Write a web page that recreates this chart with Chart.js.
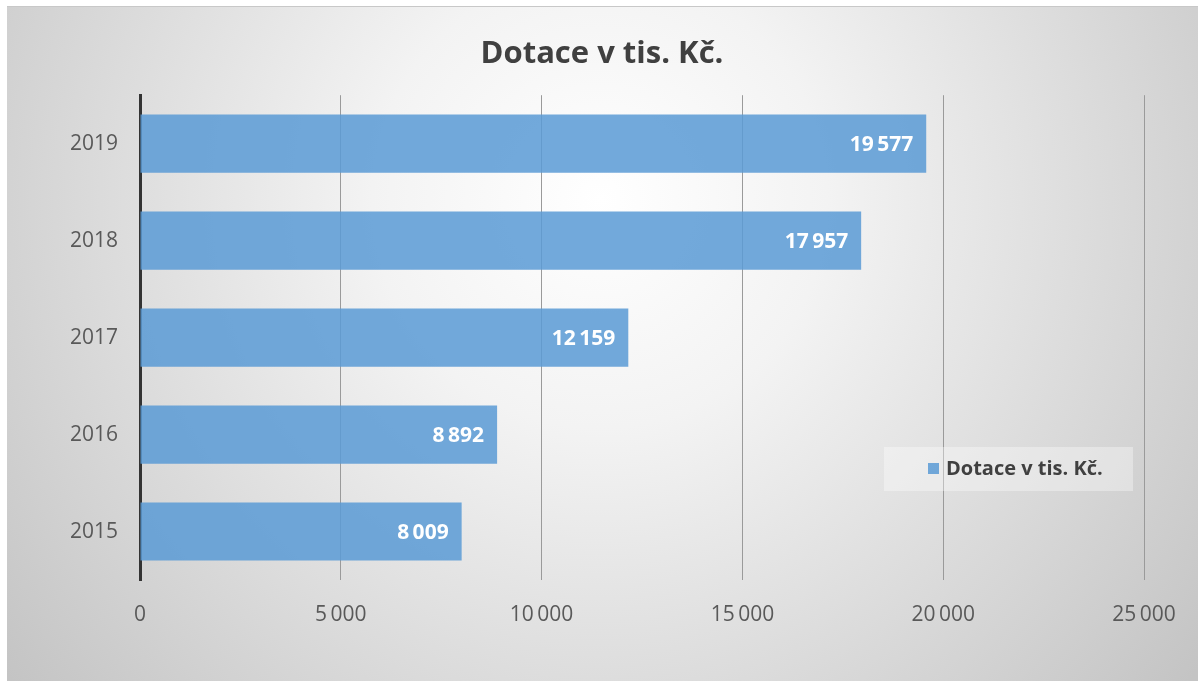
<!DOCTYPE html>
<html>
<head>
<meta charset="utf-8">
<script src="https://cdn.jsdelivr.net/npm/chart.js@4"></script>
<style>
  html, body { margin: 0; padding: 0; background: #fff; }
  #wrap { width: 1198px; height: 681px; }
</style>
</head>
<body>
<div id="wrap"><canvas id="dotaceChart" width="1198" height="681"></canvas></div>
<script>
const years = ['2015', '2016', '2017', '2018', '2019'];
const dotace = [8009, 8892, 12159, 17957, 19577];
const seriesLabel = 'Dotace v tis. Kč.';
const chartTitle = 'Dotace v tis. Kč.';
const xTicks = [0, 5000, 10000, 15000, 20000, 25000];

const barColor = 'rgba(91, 155, 213, 0.86)';

// number format like "19 577"
function fmt(v) {
  return String(v).replace(/\B(?=(\d{3})+(?!\d))/g, '\u2009');
}

// gray radial card behind everything
const cardBackground = {
  id: 'cardBackground',
  beforeDraw(chart) {
    const c = chart.ctx;
    const w = chart.width, h = chart.height;
    c.save();
    c.fillStyle = '#ffffff';
    c.fillRect(0, 0, w, h);
    const g = c.createRadialGradient(600, 200, 0, 600, 200, 760);
    g.addColorStop(0, '#ffffff');
    g.addColorStop(0.3, '#f3f3f3');
    g.addColorStop(1, '#c4c4c4');
    c.fillStyle = g;
    c.fillRect(7, 6, w - 7, h - 6);
    c.fillStyle = '#c8c8c8';
    c.fillRect(7, 6, w - 7, 1);
    c.restore();
  }
};

// white bold values at the end of each bar
const barValues = {
  id: 'barValues',
  afterDatasetsDraw(chart) {
    const c = chart.ctx;
    c.save();
    c.font = 'bold 21px "Open Sans"';
    c.fillStyle = '#ffffff';
    c.textAlign = 'right';
    c.textBaseline = 'middle';
    chart.getDatasetMeta(0).data.forEach((bar, i) => {
      c.fillText(fmt(chart.data.datasets[0].data[i]), bar.x - 13, bar.y + 1);
    });
    c.restore();
  }
};

// legend box sitting inside the plot, right side
const innerLegend = {
  id: 'innerLegend',
  afterDraw(chart) {
    const c = chart.ctx;
    const ds = chart.data.datasets[0];
    c.save();
    c.fillStyle = 'rgba(255, 255, 255, 0.35)';
    c.fillRect(884, 447, 249, 44);
    c.fillStyle = ds.backgroundColor;
    c.fillRect(928, 463, 11, 11);
    c.font = 'bold 20px "Open Sans"';
    c.fillStyle = '#404040';
    c.textAlign = 'left';
    c.textBaseline = 'middle';
    c.fillText(ds.label, 946, 469);
    c.restore();
  }
};

const ctx = document.getElementById('dotaceChart').getContext('2d');
const dotaceChart = new Chart(ctx, {
  type: 'bar',
  data: {
    labels: years,
    datasets: [{
      label: seriesLabel,
      data: dotace,
      backgroundColor: barColor,
      borderWidth: 0,
      categoryPercentage: 1.0,
      barPercentage: 0.6
    }]
  },
  options: {
    indexAxis: 'y',
    responsive: false,
    animation: false,
    layout: {
      padding: { top: 6, left: 7, right: 1, bottom: 0 }
    },
    plugins: {
      legend: { display: false },
      tooltip: { enabled: false },
      title: {
        display: true,
        text: chartTitle,
        color: '#404040',
        font: { family: 'Open Sans', size: 31, weight: 'bold' },
        padding: { top: 30, bottom: 22 }
      }
    },
    scales: {
      x: {
        min: 0,
        max: 25000,
        afterFit(scale) { scale.height = 101; },
        afterBuildTicks(scale) { scale.ticks = xTicks.map(v => ({ value: v })); },
        ticks: {
          color: '#595959',
          font: { family: 'Open Sans', size: 21 },
          padding: 22,
          maxRotation: 0,
          callback: v => fmt(v)
        },
        grid: {
          color: '#9a9a9a',
          lineWidth: 1,
          drawTicks: false
        },
        border: { display: false }
      },
      y: {
        reverse: true,
        afterFit(scale) { scale.width = 133; },
        ticks: {
          color: '#595959',
          font: { family: 'Open Sans', size: 21 },
          padding: 22
        },
        grid: { display: false, drawTicks: false },
        border: { display: true, color: '#333333', width: 3 }
      },
      // empty right-hand spacer so the title stays centred on the card
      spacer: {
        type: 'linear',
        axis: 'y',
        position: 'right',
        afterFit(scale) { scale.width = 53; },
        ticks: { display: false },
        grid: { display: false, drawTicks: false },
        border: { display: false }
      }
    }
  },
  plugins: [cardBackground, barValues, innerLegend]
});
</script>
</body>
</html>
